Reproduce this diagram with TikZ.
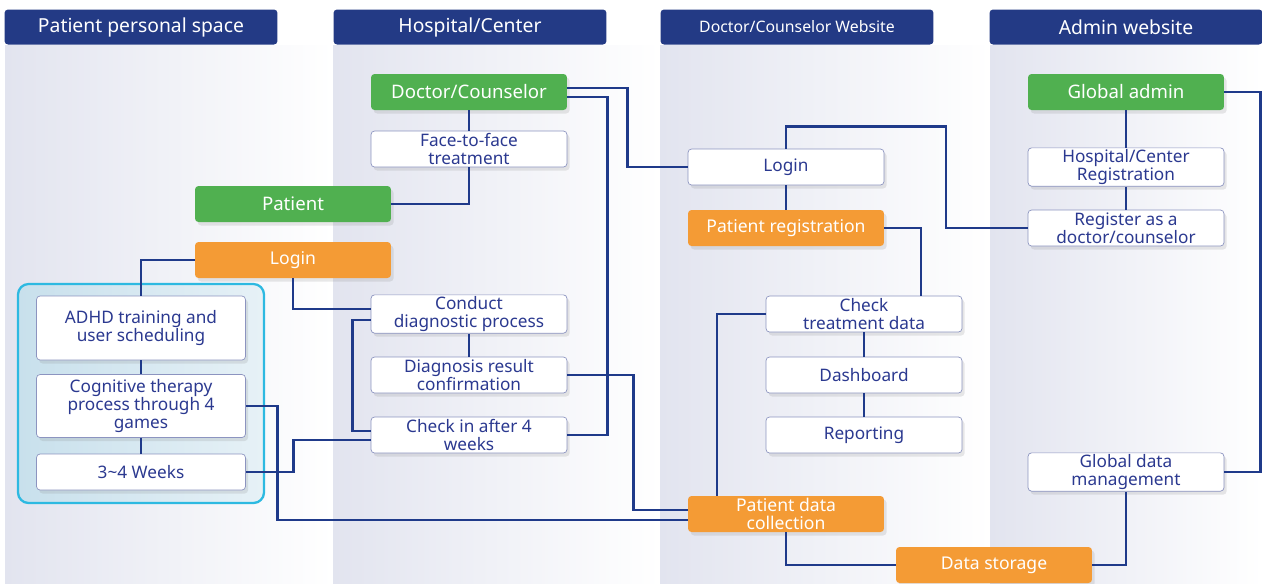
\documentclass[tikz,border=0pt]{standalone}
\usepackage{fontspec}
\setmainfont{Noto Sans}
\usetikzlibrary{shadows}

\definecolor{navy}{RGB}{35,58,133}
\definecolor{linkclr}{RGB}{31,58,138}
\definecolor{rolegreen}{RGB}{80,176,80}
\definecolor{dataorange}{RGB}{244,155,53}
\definecolor{boxline}{RGB}{140,148,192}
\definecolor{boxtext}{RGB}{43,57,144}
\definecolor{colbg}{RGB}{226,228,239}
\definecolor{groupline}{RGB}{45,185,225}
\definecolor{groupfill}{RGB}{200,224,236}

\begin{document}
\begin{tikzpicture}[x=0.02cm,y=-0.02cm,
  header/.style={fill=navy,text=white,rounded corners=2pt,minimum width=5.46cm,minimum height=0.7cm,font=\fontsize{11}{12}\selectfont},
  box/.style={rounded corners=2pt,minimum width=3.92cm,minimum height=0.72cm,align=center,inner sep=1pt,
    drop shadow={opacity=0.18,shadow xshift=1.5pt,shadow yshift=-2pt}},
  plainbox/.style={box,draw=boxline,fill=white,text=boxtext,font=\fontsize{9.8}{10}\selectfont},
  widebox/.style={plainbox,minimum width=4.18cm},
  rolebox/.style={box,fill=rolegreen,text=white,font=\fontsize{10.6}{11}\selectfont},
  databox/.style={box,fill=dataorange,text=white,font=\fontsize{10}{10.5}\selectfont},
  link/.style={draw=linkclr,line width=1.6pt}]
\useasboundingbox[fill=white] (0,0) rectangle (1262,583);

\foreach \xa/\xb in {5/333,333/660,660/990,990/1262}
  \shade[left color=colbg,right color=white] (\xa,45) rectangle (\xb,583);

\node[header] (hpat) at (141,27) {Patient personal space};
\node[header] (hhosp) at (470,27) {Hospital/Center};
\node[header,font=\fontsize{9}{10}\selectfont] (hdoc) at (797,27) {Doctor/Counselor Website};
\node[header] (hadm) at (1126,27) {Admin website};

% patient space group
\path[draw=groupline,line width=1.3pt,rounded corners=6pt,left color=groupfill,right color=groupfill!45!white]
  (18,284) rectangle (264,503);

\node[rolebox] (doc) at (469,92) {Doctor/Counselor};
\node[plainbox] (face) at (469,149) {Face-to-face\\treatment};
\node[rolebox] (pat) at (293,204) {Patient};
\node[databox] (plogin) at (293,260) {Login};
\node[widebox,minimum height=1.28cm] (adhd) at (141,328) {ADHD training and\\user scheduling};
\node[widebox,minimum height=1.26cm] (cog) at (141,406) {Cognitive therapy\\process through 4\\games};
\node[widebox] (weeks) at (141,472) {3\textasciitilde4 Weeks};
\node[plainbox] (cond) at (469,314) {Conduct\\diagnostic process};
\node[plainbox] (diag) at (469,375) {Diagnosis result\\confirmation};
\node[plainbox] (chk) at (469,435) {Check in after 4\\weeks};

\node[plainbox] (wlogin) at (786,167) {Login};
\node[databox] (preg) at (786,228) {Patient registration};
\node[plainbox] (chkt) at (864,314) {Check\\treatment data};
\node[plainbox] (dash) at (864,375) {Dashboard};
\node[plainbox] (rep) at (864,435) {Reporting};
\node[databox] (pdc) at (786,514) {Patient data\\collection};
\node[databox] (store) at (994,565) {Data storage};

\node[rolebox] (gadm) at (1126,92) {Global admin};
\node[plainbox] (hreg) at (1126,167) {Hospital/Center\\Registration};
\node[plainbox] (reg) at (1126,228) {Register as a\\doctor/counselor};
\node[plainbox] (gdm) at (1126,472) {Global data\\management};

\draw[link] (doc) -- (face);
\draw[link] (face.south) |- (pat.east);
\draw[link] (plogin.west) -| (adhd.north);
\draw[link] (plogin.south) |- ([yshift=2.8pt]cond.west);
\draw[link] (adhd) -- (cog);
\draw[link] (cog) -- (weeks);
\draw[link] (cond) -- (diag);
\draw[link] ([yshift=-3.4pt]cond.west) -- ++(-18,0) |- ([yshift=2.3pt]chk.west);
\draw[link] ([yshift=-2.8pt]chk.west) -- ++(-77,0) |- (weeks.east);
\draw[link] (cog.east) -- ++(32,0) |- ([yshift=-3.4pt]pdc.west);
\draw[link] (diag.east) -- ++(66,0) |- ([yshift=2.3pt]pdc.west);
\draw[link] (chk.east) -- ++(40,0) |- ([yshift=-2.8pt]doc.east);
\draw[link] ([yshift=2.3pt]doc.east) -- ++(60,0) |- (wlogin.west);

\draw[link] (wlogin) -- (preg);
\draw[link] (wlogin.north) -- ++(0,-22) -- ++(160,0) |- (reg.west);
\draw[link] (preg.east) -| ([xshift=1.14cm]chkt.north);
\draw[link] (chkt.west) -| ([xshift=-1.38cm]pdc.north);
\draw[link] (chkt) -- (dash);
\draw[link] (dash) -- (rep);
\draw[link] (pdc.south) |- (store.west);
\draw[link] (store.east) -| (gdm.south);

\draw[link] (gadm) -- (hreg);
\draw[link] (hreg) -- (reg);
\draw[link] (gadm.east) -- ++(36,0) |- (gdm.east);
\end{tikzpicture}
\end{document}
